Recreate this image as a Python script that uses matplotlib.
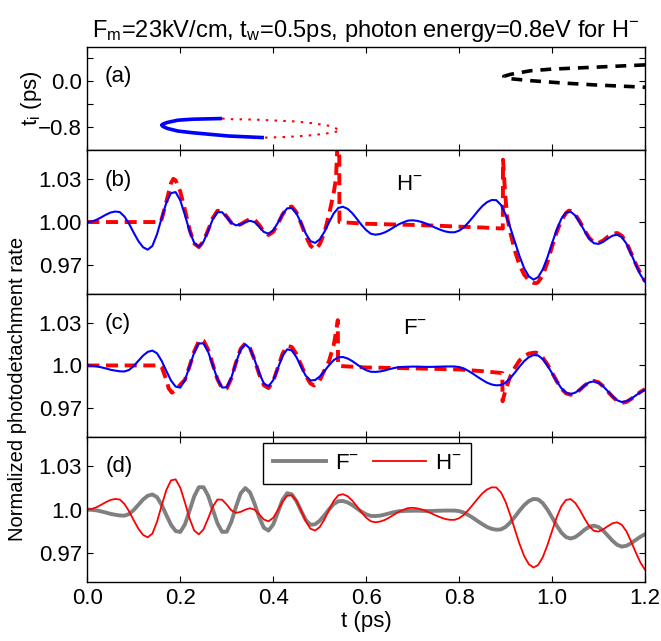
import numpy as np
import matplotlib
matplotlib.use("Agg")
import matplotlib.pyplot as plt

plt.rcParams['font.family'] = ['Liberation Sans', 'DejaVu Sans']
plt.rcParams['mathtext.fontset'] = 'custom'
plt.rcParams['mathtext.rm'] = 'Liberation Sans'
plt.rcParams['mathtext.it'] = 'Liberation Sans'
plt.rcParams['mathtext.default'] = 'regular'

# ---- data ----
t_grid = np.linspace(0.0, 1.2, 121)

# exact (quantum) rates, blue
H_exact = [1.0000, 1.0004, 1.0016, 1.0033, 1.0051, 1.0066, 1.0073, 1.0069, 1.0038, 0.9987,
           0.9925, 0.9867, 0.9825, 0.9808, 0.9834, 0.9916, 1.0028, 1.0134, 1.0201, 1.0208,
           1.0151, 1.0049, 0.9938, 0.9855, 0.9829, 0.9863, 0.9939, 1.0020, 1.0069, 1.0068,
           1.0034, 0.9994, 0.9977, 0.9984, 0.9999, 1.0009, 0.9999, 0.9966, 0.9931, 0.9919,
           0.9943, 0.9995, 1.0054, 1.0095, 1.0098, 1.0060, 0.9993, 0.9920, 0.9868, 0.9855,
           0.9879, 0.9931, 0.9997, 1.0059, 1.0098, 1.0106, 1.0092, 1.0062, 1.0022, 0.9980,
           0.9944, 0.9919, 0.9912, 0.9917, 0.9928, 0.9945, 0.9965, 0.9984, 0.9998, 1.0010,
           1.0012, 1.0008, 1.0000, 0.9988, 0.9974, 0.9959, 0.9946, 0.9935, 0.9929, 0.9929,
           0.9940, 0.9963, 0.9997, 1.0035, 1.0075, 1.0111, 1.0138, 1.0153, 1.0152, 1.0119,
           1.0053, 0.9963, 0.9862, 0.9763, 0.9679, 0.9623, 0.9600, 0.9617, 0.9671, 0.9754,
           0.9852, 0.9947, 1.0023, 1.0066, 1.0072, 1.0045, 0.9996, 0.9937, 0.9885, 0.9853,
           0.9848, 0.9863, 0.9885, 0.9905, 0.9912, 0.9895, 0.9850, 0.9780, 0.9705, 0.9635,
           0.9585]

F_exact = [1.0000, 0.9998, 0.9994, 0.9987, 0.9979, 0.9970, 0.9964, 0.9959, 0.9958, 0.9969,
           0.9997, 1.0033, 1.0069, 1.0095, 1.0104, 1.0085, 1.0032, 0.9962, 0.9895, 0.9852,
           0.9845, 0.9897, 0.9992, 1.0091, 1.0154, 1.0154, 1.0095, 1.0000, 0.9905, 0.9846,
           0.9847, 0.9916, 1.0020, 1.0112, 1.0148, 1.0118, 1.0039, 0.9945, 0.9874, 0.9855,
           0.9897, 0.9980, 1.0066, 1.0113, 1.0105, 1.0058, 0.9991, 0.9928, 0.9895, 0.9898,
           0.9922, 0.9960, 1.0001, 1.0037, 1.0057, 1.0059, 1.0049, 1.0031, 1.0008, 0.9985,
           0.9967, 0.9956, 0.9955, 0.9958, 0.9965, 0.9974, 0.9982, 0.9988, 0.9990, 0.9991,
           0.9992, 0.9992, 0.9991, 0.9990, 0.9990, 0.9991, 0.9992, 0.9993, 0.9993, 0.9993,
           0.9989, 0.9979, 0.9962, 0.9942, 0.9920, 0.9899, 0.9880, 0.9867, 0.9861, 0.9863,
           0.9880, 0.9911, 0.9950, 0.9992, 1.0030, 1.0058, 1.0073, 1.0070, 1.0044, 1.0000,
           0.9946, 0.9889, 0.9841, 0.9810, 0.9800, 0.9810, 0.9833, 0.9861, 0.9882, 0.9889,
           0.9879, 0.9854, 0.9820, 0.9785, 0.9757, 0.9744, 0.9750, 0.9767, 0.9790, 0.9812,
           0.9830]

# semiclassical rates, red dashed
t_H_sc = [0.0, 0.157, 0.16, 0.17, 0.18, 0.185, 0.19, 0.20, 0.21, 0.22, 0.23, 0.24, 0.25, 0.26,
          0.27, 0.28, 0.29, 0.30, 0.31, 0.32, 0.33, 0.34, 0.35, 0.36, 0.37, 0.38, 0.39, 0.40,
          0.41, 0.42, 0.43, 0.44, 0.45, 0.46, 0.47, 0.48, 0.49, 0.50, 0.51, 0.52, 0.53, 0.535,
          0.539, 0.5415, 0.5425, 0.55, 0.60, 0.65, 0.70, 0.75, 0.80, 0.85, 0.894, 0.8945,
          0.898, 0.903, 0.91, 0.92, 0.93, 0.94, 0.95, 0.96, 0.966, 0.97, 0.98, 0.99, 1.00,
          1.01, 1.02, 1.03, 1.036, 1.04, 1.05, 1.06, 1.07, 1.08, 1.09, 1.10, 1.11, 1.12, 1.13,
          1.14, 1.15, 1.16, 1.17, 1.18, 1.19, 1.20]
H_sc = [1.000, 1.000, 1.002, 1.014, 1.027, 1.030, 1.0290, 1.0212, 1.0084, 0.9948, 0.9851,
        0.9826, 0.9866, 0.9945, 1.0028, 1.0078, 1.0076, 1.0038, 0.9994, 0.9975, 0.9984,
        1.0004, 1.0021, 1.0017, 0.9979, 0.9931, 0.9910, 0.9932, 0.9987, 1.0052, 1.0099,
        1.0108, 1.0068, 0.9991, 0.9904, 0.9836, 0.9810, 0.9845, 0.9925, 1.0051, 1.0200,
        1.0300, 1.0600, 1.1500, 1.0000, 0.9998, 0.9988, 0.9984, 0.9980, 0.9975, 0.9968,
        0.9962, 0.9955, 1.0433, 1.0250, 1.0040, 0.9930, 0.9800, 0.9700, 0.9635, 0.9595,
        0.9578, 0.9575, 0.9582, 0.9630, 0.9720, 0.9830, 0.9930, 1.0012, 1.0062, 1.0079,
        1.0077, 1.0052, 1.0002, 0.9942, 0.9890, 0.9858, 0.9855, 0.9872, 0.9898, 0.9918,
        0.9924, 0.9905, 0.9858, 0.9785, 0.9710, 0.9645, 0.9588]

t_F_sc = [0.0, 0.157, 0.16, 0.17, 0.175, 0.182, 0.19, 0.20, 0.21, 0.22, 0.23, 0.24, 0.245,
          0.25, 0.26, 0.27, 0.28, 0.29, 0.30, 0.31, 0.32, 0.33, 0.34, 0.35, 0.36, 0.37, 0.38,
          0.39, 0.40, 0.41, 0.42, 0.43, 0.44, 0.45, 0.46, 0.47, 0.48, 0.488, 0.50, 0.51, 0.52,
          0.53, 0.535, 0.539, 0.5395, 0.55, 0.60, 0.65, 0.70, 0.75, 0.80, 0.85, 0.893, 0.8935,
          0.90, 0.91, 0.92, 0.93, 0.94, 0.95, 0.96, 0.965, 0.97, 0.98, 0.99, 1.00, 1.01, 1.02,
          1.03, 1.04, 1.05, 1.06, 1.07, 1.08, 1.09, 1.10, 1.11, 1.12, 1.13, 1.14, 1.15, 1.16,
          1.17, 1.18, 1.19, 1.20]
F_sc = [1.000, 1.000, 0.999, 0.990, 0.984, 0.981, 0.9828, 0.9866, 0.9900, 0.9995, 1.0098,
        1.0170, 1.0183, 1.0174, 1.0110, 1.0007, 0.9903, 0.9839, 0.9840, 0.9911, 1.0021,
        1.0117, 1.0155, 1.0122, 1.0038, 0.9937, 0.9861, 0.9842, 0.9890, 0.9985, 1.0082,
        1.0137, 1.0129, 1.0079, 1.0004, 0.9928, 0.9874, 0.9860, 0.9895, 0.9965, 1.0030,
        1.0140, 1.0230, 1.0317, 1.0000, 0.9995, 0.9986, 0.9983, 0.9980, 0.9976, 0.9972,
        0.9960, 0.9947, 0.9750, 0.9830, 0.9922, 0.9985, 1.0035, 1.0065, 1.0083, 1.0089,
        1.0090, 1.0085, 1.0055, 1.0008, 0.9950, 0.9890, 0.9838, 0.9805, 0.9795, 0.9805,
        0.9830, 0.9860, 0.9883, 0.9892, 0.9882, 0.9855, 0.9818, 0.9782, 0.9752, 0.9738,
        0.9745, 0.9765, 0.9790, 0.9815, 0.9835]

# panel (a): initial times t_i of the closed orbits
t_blue = [0.290, 0.226, 0.195, 0.172, 0.163, 0.160, 0.163, 0.172, 0.195, 0.226, 0.265, 0.303, 0.380]
ti_blue = [-0.650, -0.662, -0.679, -0.719, -0.745, -0.765, -0.790, -0.823, -0.869, -0.898,
           -0.927, -0.955, -0.984]
t_red = [0.290, 0.311, 0.357, 0.404, 0.450, 0.489, 0.520, 0.535, 0.544, 0.535, 0.512, 0.473,
         0.427, 0.380]
ti_red = [-0.650, -0.662, -0.668, -0.685, -0.702, -0.737, -0.777, -0.823, -0.858, -0.881,
          -0.915, -0.950, -0.973, -0.984]
t_black = [1.2, 1.092, 0.999, 0.953, 0.910, 0.896, 0.910, 0.953, 1.022, 1.092, 1.2]
ti_black = [0.287, 0.247, 0.213, 0.184, 0.121, 0.086, 0.046, 0.012, -0.029, -0.063, -0.103]

x_ticks = [0.0, 0.2, 0.4, 0.6, 0.8, 1.0, 1.2]
x_ticklabels = ['0.0', '0.2', '0.4', '0.6', '0.8', '1.0', '1.2']

fs = 16
fig = plt.figure(figsize=(6.61, 6.41), dpi=100)
left, width = 0.1321, 0.8437
ax_a = fig.add_axes([left, 0.7660, width, 0.1607])
ax_b = fig.add_axes([left, 0.5413, width, 0.2246])
ax_c = fig.add_axes([left, 0.3183, width, 0.2231])
ax_d = fig.add_axes([left, 0.0920, width, 0.2262])


def style(ax, yt, ylab, ylim):
    ax.set_xlim(0, 1.2)
    ax.set_ylim(*ylim)
    ax.set_xticks(x_ticks)
    ax.set_yticks(yt)
    ax.set_yticklabels(ylab)
    ax.tick_params(direction='in', top=True, right=True, length=4, width=0.8,
                   labelsize=fs, labelbottom=False, pad=4)
    for s in ax.spines.values():
        s.set_linewidth(1.0)


# (a)
ax_a.plot(t_red, ti_red, color='red', lw=1.5, dashes=(1.2, 3.0))
ax_a.plot(t_blue, ti_blue, color='blue', lw=2.6, solid_capstyle='butt')
ax_a.plot(t_black, ti_black, color='black', lw=2.6, dashes=(3.0, 2.2))
style(ax_a, [-0.8, -0.4, 0.0, 0.4], ['\u22120.8', '', '0.0', ''], (-1.2, 0.6))
ax_a.set_title('F$_{m}$=23kV/cm, t$_{w}$=0.5ps, photon energy=0.8eV for H$^{-}$',
               fontsize=17, pad=7)
ax_a.text(0.031, 0.71, '(a)', transform=ax_a.transAxes, fontsize=fs, va='center')

# (b) H-
ax_b.plot(t_H_sc, H_sc, color='red', lw=2.8, dashes=(3.1, 1.7))
ax_b.plot(t_grid, H_exact, color='blue', lw=1.5)
style(ax_b, [0.97, 1.00, 1.03], ['0.97', '1.00', '1.03'], (0.95, 1.05))
ax_b.text(0.031, 0.79, '(b)', transform=ax_b.transAxes, fontsize=fs, va='center')
ax_b.text(0.553, 0.76, 'H$^{-}$', transform=ax_b.transAxes, fontsize=fs, va='center')

# (c) F-
ax_c.plot(t_F_sc, F_sc, color='red', lw=2.8, dashes=(3.1, 1.7))
ax_c.plot(t_grid, F_exact, color='blue', lw=1.5)
style(ax_c, [0.97, 1.00, 1.03], ['0.97', '1.0', '1.03'], (0.95, 1.05))
ax_c.text(0.031, 0.79, '(c)', transform=ax_c.transAxes, fontsize=fs, va='center')
ax_c.text(0.566, 0.757, 'F$^{-}$', transform=ax_c.transAxes, fontsize=fs, va='center')

# (d) comparison
ax_d.plot(t_grid, F_exact, color='#808080', lw=2.8, label='F$^{-}$')
ax_d.plot(t_grid, H_exact, color='red', lw=1.3, label='H$^{-}$')
style(ax_d, [0.97, 1.00, 1.03], ['0.97', '1.0', '1.03'], (0.95, 1.05))
ax_d.tick_params(labelbottom=True)
ax_d.set_xticklabels(x_ticklabels)
ax_d.text(0.033, 0.795, '(d)', transform=ax_d.transAxes, fontsize=fs, va='center')
leg = ax_d.legend(loc='upper center', bbox_to_anchor=(0.502, 0.96), ncol=2, fontsize=fs,
                  handlelength=2.4, handletextpad=0.4, columnspacing=0.6,
                  fancybox=False, framealpha=1, edgecolor='black', borderpad=0.45,
                  borderaxespad=0.0)
leg.get_frame().set_linewidth(1.0)
ax_d.set_xlabel('t (ps)', fontsize=fs, labelpad=2)

fig.text(0.047, 0.846, 't$_{i}$ (ps)', rotation=90, ha='center', va='center', fontsize=fs)
fig.text(0.027, 0.393, 'Normalized photodetachment rate', rotation=90, ha='center',
         va='center', fontsize=14.5)

fig.savefig('out.png', dpi=100)
